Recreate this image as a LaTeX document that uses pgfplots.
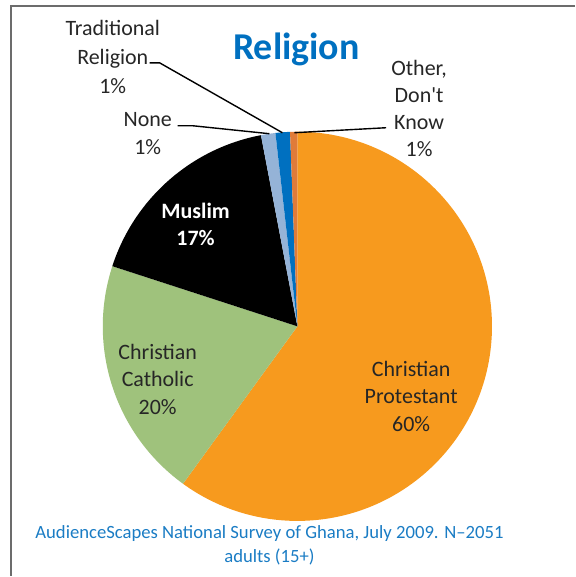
\documentclass[border=0pt]{standalone}
\usepackage{pgfplots}
\usepackage{pgfplotstable}
\pgfplotsset{compat=1.18}
\usepackage{fontspec}
\setmainfont{Carlito}
\newfontfamily\nolig{Carlito}
\definecolor{cProt}{HTML}{F79A1E}
\definecolor{cCath}{HTML}{9FC27C}
\definecolor{cMusl}{HTML}{000000}
\definecolor{cNone}{HTML}{95B3D7}
\definecolor{cTrad}{HTML}{0070C0}
\definecolor{cOther}{HTML}{E07B39}
\definecolor{titleblue}{HTML}{0070C0}
\definecolor{srcblue}{HTML}{1A7CC4}
\pgfplotstableread{
label value color
Protestant 60.0 cProt
Catholic 20.0 cCath
Muslim 17.0 cMusl
None 1.2 cNone
Traditional 1.2 cTrad
Other 0.6 cOther
}\pietable
\begin{document}
\begin{tikzpicture}
\begin{axis}[
  x=1pt, y=1pt, xmin=0, xmax=576, ymin=0, ymax=577,
  hide axis, clip=false, disabledatascaling,
]
\path (axis cs:0,0) rectangle (axis cs:576,577);
% frame
\draw[gray!85!black, line width=2.4pt] (axis cs:11,0) -- (axis cs:11,571) -- (axis cs:576,571);
% pie slices
\pgfplotstablegetrowsof{\pietable}
\pgfmathtruncatemacro{\N}{\pgfplotsretval-1}
\def\cum{0}
\pgfplotsforeachungrouped \i in {0,...,\N}{%
  \pgfplotstablegetelem{\i}{value}\of{\pietable}\let\v\pgfplotsretval
  \pgfplotstablegetelem{\i}{color}\of{\pietable}\let\c\pgfplotsretval
  \pgfmathsetmacro{\a}{90-3.6*\cum}%
  \pgfmathsetmacro{\b}{90-3.6*(\cum+\v)}%
  \edef\temp{\noexpand\fill[\c] (axis cs:298,250) -- ++(\a:195pt) arc[start angle=\a, end angle=\b, radius=195pt] -- cycle;}%
  \temp
  \pgfmathsetmacro{\cum}{\cum+\v}%
}
% leader lines
\draw[black, line width=1.4pt] (axis cs:150,514) -- (axis cs:160,514) -- (axis cs:283,444);
\draw[black, line width=1.4pt] (axis cs:178,451) -- (axis cs:193,451) -- (axis cs:270,443);
\draw[black, line width=1.4pt] (axis cs:295,444) -- (axis cs:387,449);
% texts
\node[font=\fontsize{38}{44}\selectfont\bfseries, text=titleblue] at (axis cs:297,527) {Religion};
\node[font=\fontsize{22}{29}\selectfont, align=center, text=black!85] at (axis cs:113,520) {Traditional\\Religion\\1\%};
\node[font=\fontsize{22}{28}\selectfont, align=center, text=black!85] at (axis cs:148,443) {None\\1\%};
\node[font=\fontsize{22}{27}\selectfont, align=center, text=black!85] at (axis cs:420,468) {Other,\\Don{\nolig'}t\\Know\\1\%};
\node[font=\fontsize{22}{27}\selectfont\bfseries, align=center, text=white] at (axis cs:196,352.5) {Muslim\\17\%};
\node[font=\fontsize{22}{27.5}\selectfont, align=center, text=black!85] at (axis cs:158,197) {Christian\\Catholic\\20\%};
\node[font=\fontsize{22}{27.5}\selectfont, align=center, text=black!85] at (axis cs:412,180) {Christian\\Protestant\\60\%};
\node[font=\fontsize{18.7}{23.5}\selectfont, align=center, text=srcblue] at (axis cs:270,30.5) {AudienceScapes National Survey of Ghana, July 2009. N--2051\\adults (15+)};
\end{axis}
\end{tikzpicture}
\end{document}
